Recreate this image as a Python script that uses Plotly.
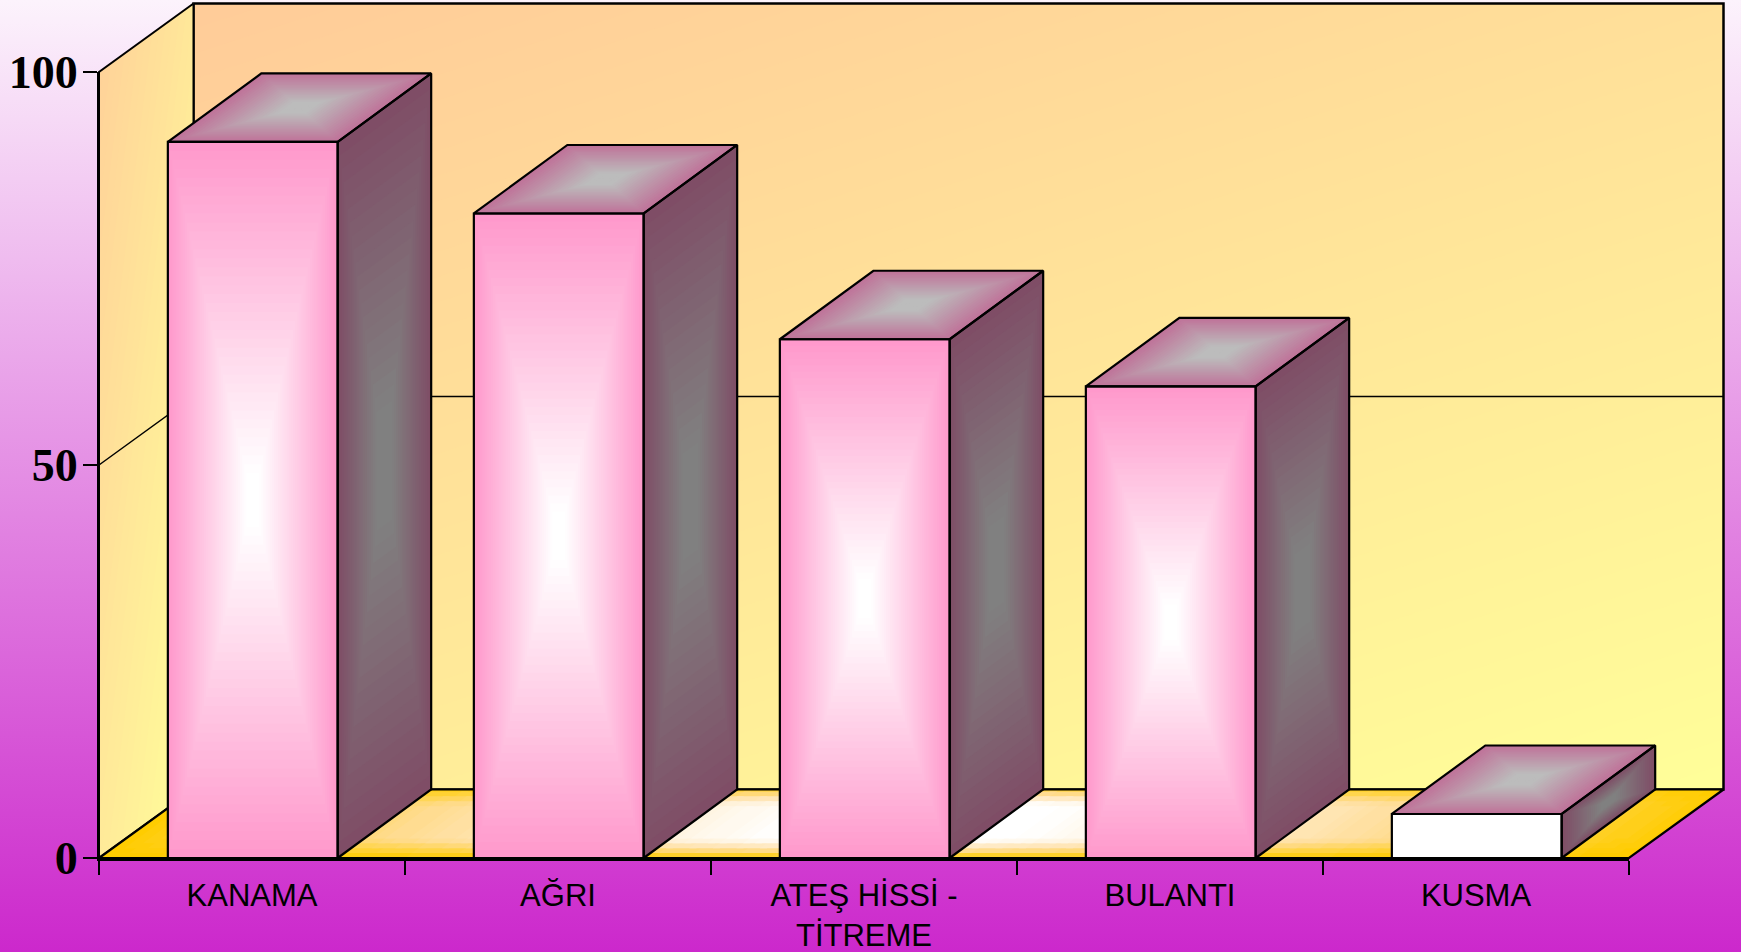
import plotly.graph_objects as go

# ---- data ----
categories = ["KANAMA", "AĞRI", "ATEŞ HİSSİ -<br>TİTREME", "BULANTI", "KUSMA"]
values = [91.1, 82.0, 66.0, 60.0, 5.6]
y_ticks = [0, 50, 100]

# ---- styles ----
FRONT_EDGE = ["#ff99cc", "#ff99cc", "#ff99cc", "#ff99cc", "#ffffff"]
FRONT_MID = "#ffffff"
TOP_RAMP = [(0, "#bf7399"), (1, "#bcbcbc")]
SIDE_RAMP = [(0, "#7f4d66"), (1, "#808080")]
FLOOR_RAMP = [(0, "#ffcc00"), (0.35, "#ffdc90"), (0.5, "#ffe6b8"), (0.85, "#ffffff"), (1, "#ffffff")]
WALL_A, WALL_B = "#ffcc99", "#ffff99"
BG_TOP, BG_BOTTOM = "#fcf3fc", "#cc28cc"

W, H = 1741, 952
AX_L, AX_R, AX_T, AX_B = 99, 1629, 72, 858      # front axis box in pixels
PX_X = (AX_R - AX_L) / len(categories)
PX_Y = (AX_B - AX_T) / 100
DX = 94.5 / PX_X       # depth of the 3-D box in axis units
DY = 68.5 / PX_Y
BAR_DX = 93.5 / PX_X
BAR_L, BAR_R = 0.225, 0.78
X_RANGE = [-AX_L / PX_X, (W - AX_L) / PX_X]
Y_RANGE = [-(H - AX_B) / PX_Y, AX_B / PX_Y]

fig = go.Figure()


def hex2rgb(c):
    return [int(c[i:i + 2], 16) for i in (1, 3, 5)]


def mix(a, b, t):
    a, b = hex2rgb(a), hex2rgb(b)
    return "rgb(%d,%d,%d)" % tuple(round(p + (q - p) * t) for p, q in zip(a, b))


def ramp(stops, t):
    t = min(max(t, 0), 1)
    for (t0, c0), (t1, c1) in zip(stops, stops[1:]):
        if t <= t1:
            return mix(c0, c1, (t - t0) / (t1 - t0))
    return stops[-1][1]


def poly(pts, color):
    fig.add_trace(go.Scatter(
        x=[p[0] for p in pts] + [pts[0][0]], y=[p[1] for p in pts] + [pts[0][1]],
        mode="lines", line=dict(width=0), fill="toself", fillcolor=color,
        hoverinfo="skip", showlegend=False))


def outline(pts, width=2, close=True):
    pp = pts + [pts[0]] if close else pts
    fig.add_trace(go.Scatter(
        x=[p[0] for p in pp], y=[p[1] for p in pp], mode="lines",
        line=dict(color="black", width=width), hoverinfo="skip", showlegend=False))


def nested(pts, stops, steps, reach=1.0):
    """Path gradient on a quad: shrinking copies of it towards its centre."""
    cx = sum(p[0] for p in pts) / 4
    cy = sum(p[1] for p in pts) / 4
    for i in range(steps):
        k = 1 - i / steps
        poly([(cx + (p[0] - cx) * k, cy + (p[1] - cy) * k) for p in pts],
             ramp(stops, (i / steps) / reach))


def floor_gradient(pts, stops, nu=130, nv=14, levels=48, band=0.55):
    """Floor shading: colour set by the distance to the side edges, faded into the
    gold rim near the front and back edges. Cells of one colour share one trace."""
    p0, p1, _, p3 = pts
    ex, ey = (p1[0] - p0[0]), (p1[1] - p0[1])
    fx, fy = (p3[0] - p0[0]), (p3[1] - p0[1])
    groups = {}
    for a in range(nu):
        for b in range(nv):
            u0, u1 = a / nu, min((a + 1.6) / nu, 1)
            v0, v1 = b / nv, min((b + 1.6) / nv, 1)
            uc, vc = (a + 0.5) / nu, (b + 0.5) / nv
            tu = 1 - abs(2 * uc - 1)
            tv = 1 - abs(2 * vc - 1)
            lev = round(tu * min(1, tv / band) * levels)
            cell = [(p0[0] + u * ex + v * fx, p0[1] + u * ey + v * fy)
                    for u, v in ((u0, v0), (u1, v0), (u1, v1), (u0, v1), (u0, v0))]
            groups.setdefault(lev, []).append((a, b, cell))
    # paint by rows so the overlap of each cell is covered in a fixed order
    order = sorted(groups)
    for lev in order:
        xs, ys = [], []
        for _, _, cell in groups[lev]:
            xs += [c[0] for c in cell] + [None]
            ys += [c[1] for c in cell] + [None]
        fig.add_trace(go.Scatter(x=xs, y=ys, mode="lines", line=dict(width=0), fill="toself",
                                 fillcolor=ramp(stops, lev / levels),
                                 hoverinfo="skip", showlegend=False))


def clip(pts, f, level):
    out = []
    for i, p in enumerate(pts):
        q = pts[(i + 1) % len(pts)]
        a, b = f(p) - level, f(q) - level
        if a >= 0:
            out.append(p)
        if a * b < 0:
            s = a / (a - b)
            out.append((p[0] + (q[0] - p[0]) * s, p[1] + (q[1] - p[1]) * s))
    return out


def banded(pts, f, lo, hi, steps):
    """Straight diagonal gradient between WALL_A and WALL_B."""
    poly(pts, mix(WALL_A, WALL_B, lo))
    for i in range(1, steps):
        t = lo + (hi - lo) * i / steps
        part = clip(pts, f, t)
        if len(part) >= 3:
            poly(part, mix(WALL_A, WALL_B, t))


# page background
fig.add_trace(go.Scatter(
    x=[X_RANGE[0], X_RANGE[1], X_RANGE[1], X_RANGE[0], X_RANGE[0]],
    y=[Y_RANGE[0], Y_RANGE[0], Y_RANGE[1], Y_RANGE[1], Y_RANGE[0]],
    mode="lines", line=dict(width=0), fill="toself",
    fillgradient=dict(type="vertical", colorscale=[[0, BG_BOTTOM], [1, BG_TOP]]),
    hoverinfo="skip", showlegend=False))

n = len(categories)
top = max(y_ticks)
# back wall
back = [(DX, DY), (n + DX, DY), (n + DX, top + DY), (DX, top + DY)]
banded(back, lambda p: 0.39 * (p[0] - DX) / n + 0.61 * (top + DY - p[1]) / top, 0, 1, 51)
outline(back, 2.5)
# left wall
left = [(0, 0), (DX, DY), (DX, top + DY), (0, top)]
banded(left, lambda p: 0.1 + 0.45 * p[0] / DX + 0.5 * (top + DY - p[1]) / (top + DY), 0.1, 1, 30)
outline(left, 2)
# floor
floor = [(0, 0), (n, 0), (n + DX, DY), (DX, DY)]
floor_gradient(floor, FLOOR_RAMP)
outline(floor, 2.2)
# gridline at 50
mid_tick = y_ticks[1]
outline([(0, mid_tick), (DX, mid_tick + DY), (n + DX, mid_tick + DY)], 1.5, close=False)

# bars
for i, v in enumerate(values):
    x0, x1 = i + BAR_L, i + BAR_R
    side = [(x1, 0), (x1 + BAR_DX, DY), (x1 + BAR_DX, v + DY), (x1, v)]
    lid = [(x0, v), (x1, v), (x1 + BAR_DX, v + DY), (x0 + BAR_DX, v + DY)]
    front = [(x0, 0), (x1, 0), (x1, v), (x0, v)]
    nested(side, SIDE_RAMP, 24, reach=0.82)
    nested(lid, TOP_RAMP, 24, reach=0.82)
    if FRONT_EDGE[i] == FRONT_MID:
        poly(front, FRONT_MID)
    else:
        nested(front, [(0, FRONT_EDGE[i]), (1, FRONT_MID)], 40, reach=0.92)
    outline(side, 2.2)
    outline(lid, 2.2)
    outline(front, 2.2)

# real axes, on top of the drawing
fig.add_trace(go.Scatter(x=[0.5], y=[0], xaxis="x2", yaxis="y2", mode="markers",
                         marker=dict(opacity=0), hoverinfo="skip", showlegend=False))

fig.update_layout(
    width=W, height=H, margin=dict(l=0, r=0, t=0, b=0, pad=0, autoexpand=False), autosize=False,
    paper_bgcolor=BG_BOTTOM, plot_bgcolor="rgba(0,0,0,0)", showlegend=False,
    xaxis=dict(range=X_RANGE, domain=[0, 1], visible=False, fixedrange=True),
    yaxis=dict(range=Y_RANGE, domain=[0, 1], visible=False, fixedrange=True),
    xaxis2=dict(
        anchor="y2", domain=[AX_L / W, AX_R / W], range=[0, n], showgrid=False, zeroline=False,
        showline=True, linecolor="black", linewidth=2.5,
        tickmode="array", tickvals=[i + 0.5 for i in range(n)], ticktext=categories, ticks="",
        ticklabelstandoff=8,
        tickfont=dict(family="Liberation Sans", size=31, color="black"),
        minor=dict(tickmode="array", tickvals=list(range(n + 1)), ticks="outside",
                   ticklen=14, tickwidth=1.5, tickcolor="black", showgrid=False),
    ),
    yaxis2=dict(
        anchor="x2", domain=[(H - AX_B) / H, (H - AX_T) / H], range=[0, top], showgrid=False,
        zeroline=False, showline=True, linecolor="black", linewidth=2,
        tickmode="array", tickvals=y_ticks, ticktext=[str(t) for t in y_ticks],
        ticks="outside", ticklen=14, tickwidth=1.5, tickcolor="black",
        ticklabelstandoff=-4,
        tickfont=dict(family="Liberation Serif", size=46, color="black", weight="bold"),
    ),
)

fig.write_html("out.html", config={"displayModeBar": False},
               post_script="document.body.style.margin='0';document.body.style.overflow='hidden';")
